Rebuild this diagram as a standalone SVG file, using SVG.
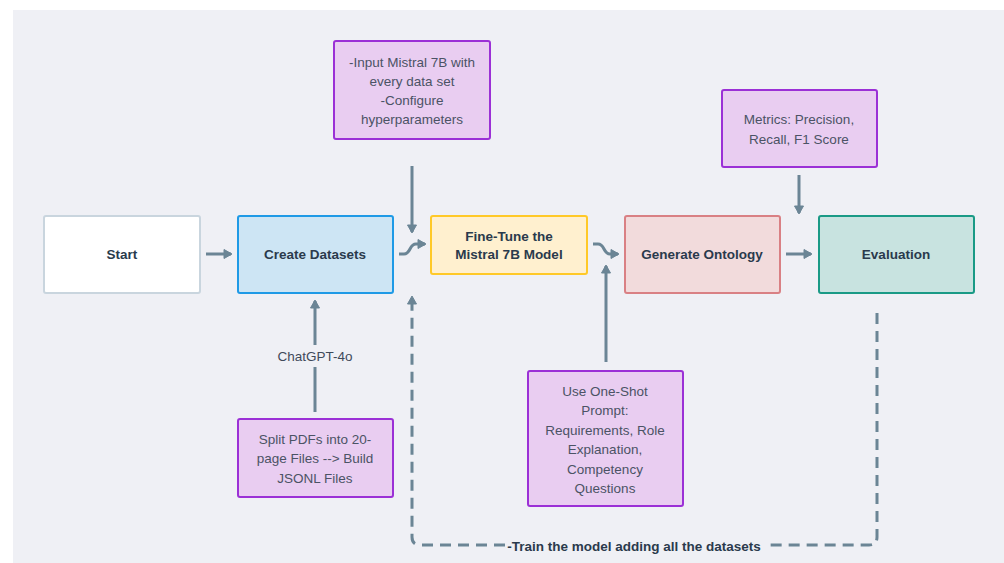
<svg xmlns="http://www.w3.org/2000/svg" width="1004" height="563" viewBox="0 0 1004 563">
<defs>
<marker id="ah" markerUnits="userSpaceOnUse" markerWidth="12" markerHeight="12" refX="8" refY="6" orient="auto">
<path d="M1,1.5 L9,6 L1,10.5 Z" fill="#6b8595" stroke="#6b8595" stroke-width="1" stroke-linejoin="round"/>
</marker>
</defs>
<style>
.bg{fill:#eff0f5}
.n{stroke-width:2}
.lbl{font-family:"Liberation Sans",Arial,sans-serif;font-weight:bold;font-size:13.5px;fill:#2a3a4c;text-anchor:middle}
.pt{font-family:"Liberation Sans",Arial,sans-serif;font-size:13.5px;fill:#4b5365;text-anchor:middle}
.pur{fill:#e9cdf1;stroke:#9b30d6;stroke-width:2}
.c{fill:none;stroke:#6b8595;stroke-width:3}
.d{fill:none;stroke:#6b8595;stroke-width:3;stroke-dasharray:11 7}
</style>
<rect x="0" y="0" width="1004" height="563" fill="#ffffff"/>
<rect class="bg" x="13" y="10" width="991" height="553"/>

<g id="connectors">
<line class="c" x1="206" y1="254" x2="231" y2="254" marker-end="url(#ah)"/>
<path class="c" d="M399,254 L404,254 C411,254 409,244 416,244 L425,244" marker-end="url(#ah)"/>
<line class="c" x1="412" y1="166" x2="412" y2="232" marker-end="url(#ah)"/>
<path class="c" d="M593,244 L598,244 C605,244 603,254 610,254 L618,254" marker-end="url(#ah)"/>
<line class="c" x1="606" y1="362" x2="606" y2="266" marker-end="url(#ah)"/>
<line class="c" x1="786" y1="254" x2="811" y2="254" marker-end="url(#ah)"/>
<line class="c" x1="799" y1="175" x2="799" y2="213" marker-end="url(#ah)"/>
<line class="c" x1="315" y1="412" x2="315" y2="367"/>
<line class="c" x1="315" y1="345" x2="315" y2="301" marker-end="url(#ah)"/>
<text class="pt" x="315" y="361" style="fill:#3f4a5a">ChatGPT-4o</text>
<path class="d" d="M877,313 L877,537 Q877,545 869,545 L765,545"/>
<path class="d" d="M505,545 L420,545 Q412,545 412,537 L412,297" marker-end="url(#ah)"/>
<text class="lbl" x="634" y="551">-Train the model adding all the datasets</text>
</g>

<g id="start">
<rect x="44" y="216" width="156" height="77" rx="2" fill="#ffffff" stroke="#c9d5de" stroke-width="2"/>
<text class="lbl" x="122" y="259">Start</text>
</g>
<g id="create-datasets">
<rect x="238" y="216" width="155" height="77" rx="2" fill="#cde5f4" stroke="#1f9ae6" stroke-width="2"/>
<text class="lbl" x="315" y="259">Create Datasets</text>
</g>
<g id="fine-tune">
<rect x="431" y="216" width="156" height="58" rx="2" fill="#fff0cf" stroke="#ffc928" stroke-width="2"/>
<text class="lbl" x="509" y="241">Fine-Tune the</text>
<text class="lbl" x="509" y="259">Mistral 7B Model</text>
</g>
<g id="generate-ontology">
<rect x="625" y="216" width="155" height="77" rx="2" fill="#f2dbdc" stroke="#d98084" stroke-width="2"/>
<text class="lbl" x="702" y="259">Generate Ontology</text>
</g>
<g id="evaluation">
<rect x="819" y="216" width="155" height="77" rx="2" fill="#c8e3e0" stroke="#1a9a86" stroke-width="2"/>
<text class="lbl" x="896" y="259">Evaluation</text>
</g>
<g id="input-mistral">
<rect class="pur" x="334" y="41" width="156" height="98" rx="2"/>
<text class="pt" x="412" y="67">-Input Mistral 7B with</text>
<text class="pt" x="412" y="86">every data set</text>
<text class="pt" x="412" y="105">-Configure</text>
<text class="pt" x="412" y="124">hyperparameters</text>
</g>
<g id="metrics">
<rect class="pur" x="722" y="90" width="155" height="77" rx="2"/>
<text class="pt" x="799" y="124">Metrics: Precision,</text>
<text class="pt" x="799" y="144">Recall, F1 Score</text>
</g>
<g id="split-pdfs">
<rect class="pur" x="238" y="419" width="155" height="78" rx="2"/>
<text class="pt" x="315" y="444">Split PDFs into 20-</text>
<text class="pt" x="315" y="463">page Files --&gt; Build</text>
<text class="pt" x="315" y="483">JSONL Files</text>
</g>
<g id="one-shot">
<rect class="pur" x="528" y="371" width="155" height="135" rx="2"/>
<text class="pt" x="605" y="396">Use One-Shot</text>
<text class="pt" x="605" y="415">Prompt:</text>
<text class="pt" x="605" y="435">Requirements, Role</text>
<text class="pt" x="605" y="454">Explanation,</text>
<text class="pt" x="605" y="474">Competency</text>
<text class="pt" x="605" y="493">Questions</text>
</g>
</svg>
